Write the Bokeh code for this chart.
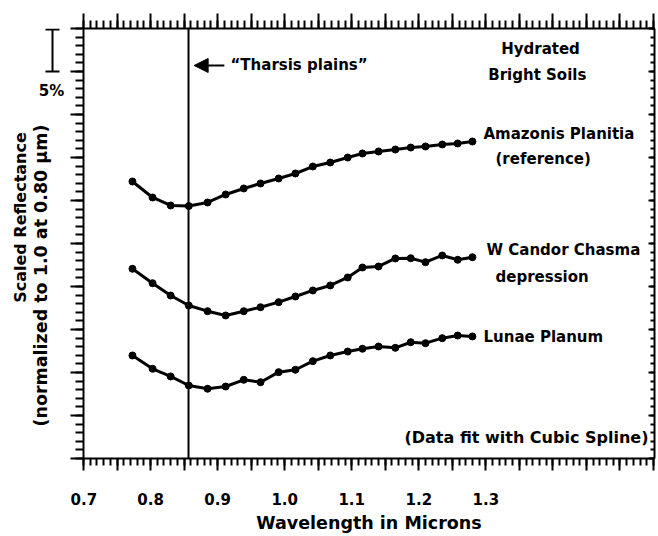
import math
from bokeh.plotting import figure
from bokeh.layouts import row
from bokeh.models import (Range1d, LinearAxis, FixedTicker, Span, Arrow, NormalHead,
                          Label, CustomJSTickFormatter)
from bokeh.embed import file_html
from bokeh.resources import INLINE

# ---------------- data ----------------
wavelength = [0.773, 0.803, 0.830, 0.857, 0.885, 0.912, 0.939, 0.964, 0.991, 1.016,
              1.042, 1.068, 1.094, 1.116, 1.140, 1.165, 1.188, 1.210, 1.235, 1.258, 1.280]

# scaled reflectance, normalized to 1.0 at 0.80 um
amazonis = [1.0186, 1.0000, 0.9907, 0.9901, 0.9942, 1.0035, 1.0105, 1.0163, 1.0221, 1.0279,
            1.0360, 1.0407, 1.0465, 1.0512, 1.0535, 1.0558, 1.0581, 1.0593, 1.0616, 1.0628, 1.0651]
candor = [1.0171, 1.0003, 0.9860, 0.9744, 0.9678, 0.9628, 0.9678, 0.9724, 0.9783, 0.9849,
          0.9919, 0.9977, 1.0070, 1.0186, 1.0198, 1.0291, 1.0294, 1.0248, 1.0326, 1.0276, 1.0306]
lunae = [1.0163, 1.0008, 0.9919, 0.9814, 0.9776, 0.9802, 0.9880, 0.9852, 0.9969, 0.9997,
         1.0097, 1.0163, 1.0209, 1.0241, 1.0267, 1.0252, 1.0317, 1.0306, 1.0364, 1.0395, 1.0384]

series_names = ["Amazonis Planitia", "W Candor Chasma", "Lunae Planum"]
series_offsets = [0.0, -0.10, -0.20]          # vertical offsets used for display

tharsis_wavelength = 0.8566
scale_bar_value = 0.05                          # "5%" bar
x_tick_values = [0.7, 0.8, 0.9, 1.0, 1.1, 1.2, 1.3]
x_tick_labels = ["0.7", "0.8", "0.9", "1.0", "1.1", "1.2", "1.3"]

# ---------------- layout constants ----------------
X0, X1 = 0.7, 1.5515
Y0, Y1 = 0.6965, 1.1965
FONT = "DejaVu Sans"
TOTAL_W, TOTAL_H = 658, 536
SIDE_W = 70
BORDER_TOP, BORDER_BOTTOM = 28, 78
FRAME_H = TOTAL_H - BORDER_TOP - BORDER_BOTTOM

p = figure(width=TOTAL_W - SIDE_W, height=TOTAL_H, x_range=Range1d(X0, X1),
           y_range=Range1d(Y0, Y1),
           output_backend="svg", toolbar_location=None,
           x_axis_type=None, y_axis_type=None,
           min_border_left=13, min_border_right=4,
           min_border_top=BORDER_TOP, min_border_bottom=BORDER_BOTTOM)
p.outline_line_color = None

x_major = [round(0.70 + 0.05 * i, 2) for i in range(18)]
x_minor = [round(0.70 + 0.01 * i, 2) for i in range(86)]
y_major = [round(Y1 - 0.05 * k, 4) for k in range(11)]
y_minor = [round(Y1 - 0.01 * k, 4) for k in range(51)]

blank = CustomJSTickFormatter(code="return '';")


def style(ax, mo, mi, no, ni):
    ax.axis_line_width = 2
    ax.axis_line_color = "black"
    ax.major_tick_line_width = 2
    ax.minor_tick_line_width = 2
    ax.major_tick_line_color = "black"
    ax.minor_tick_line_color = "black"
    ax.major_tick_out = mo
    ax.major_tick_in = mi
    ax.minor_tick_out = no
    ax.minor_tick_in = ni


xb = LinearAxis(ticker=FixedTicker(ticks=x_major, minor_ticks=x_minor))
style(xb, 12, 0, 7, 0)
overrides = {t: "" for t in x_major}
for t, lab_ in zip(x_tick_values, x_tick_labels):
    overrides[t] = lab_
xb.major_label_overrides = overrides
xb.major_label_text_font = FONT
xb.major_label_text_font_style = "bold"
xb.major_label_text_font_size = "15px"
xb.major_label_text_color = "black"
xb.major_label_standoff = 22
xb.axis_label = "Wavelength in Microns"
xb.axis_label_text_font = FONT
xb.axis_label_text_font_style = "bold"
xb.axis_label_text_font_size = "17.5px"
xb.axis_label_text_color = "black"
xb.axis_label_standoff = 5
p.add_layout(xb, "below")

for loc, mo, mi, no, ni, ticks, minors in [("above", 15, 0, 8, 0, x_major, x_minor),
                                           ("left", 13, 0, 8, 0, y_major, y_minor),
                                           ("right", 0, 6, 0, 4, y_major, y_minor)]:
    ax = LinearAxis(ticker=FixedTicker(ticks=ticks, minor_ticks=minors), formatter=blank)
    style(ax, mo, mi, no, ni)
    ax.major_label_text_font_size = "0px"
    ax.major_label_standoff = 0
    p.add_layout(ax, loc)

# ---------------- curves ----------------
for vals, off in zip([amazonis, candor, lunae], series_offsets):
    ys = [v + off for v in vals]
    p.line(wavelength, ys, line_width=3, color="black")
    p.scatter(wavelength, ys, size=7, color="black")

# Tharsis plains reference line + arrow
p.add_layout(Span(location=tharsis_wavelength, dimension="height",
                  line_color="black", line_width=2))
p.add_layout(Arrow(end=NormalHead(size=14, fill_color="black", line_color="black"),
                   x_start=0.9100, y_start=1.1535, x_end=0.8650, y_end=1.1535,
                   line_width=2, line_color="black"))


def lab(fig, x, y, text, size="15px", align="left", angle=0.0):
    fig.add_layout(Label(x=x, y=y, text=text, text_font=FONT, text_font_style="bold",
                         text_font_size=size, text_align=align, text_baseline="middle",
                         angle=angle, text_color="black"))


lab(p, 0.9192, 1.1535, "\u201cTharsis plains\u201d", "15px")
lab(p, 1.3815, 1.1721, "Hydrated", "15px", "center")
lab(p, 1.3845, 1.1419, "Bright   Soils", "15px", "center")
lab(p, 1.2965, 1.0733, series_names[0], "15px")
lab(p, 1.3144, 1.0453, "(reference)", "15px")
lab(p, 1.3010, 0.9384, series_names[1], "15px")
lab(p, 1.3144, 0.9070, "depression", "15px")
lab(p, 1.2965, 0.8372, series_names[2], "15px")
lab(p, 1.5425, 0.7209, "(Data fit with Cubic Spline)", "16px", "right")

# ---------------- left strip: y title and 5% scale bar ----------------
# its frame is aligned with the main frame (rows align frames); y in page pixels
s = figure(width=SIDE_W, height=TOTAL_H, x_range=Range1d(0, SIDE_W),
           y_range=Range1d(BORDER_TOP + FRAME_H, BORDER_TOP),
           output_backend="svg", toolbar_location=None,
           x_axis_type=None, y_axis_type=None,
           min_border_left=0, min_border_right=0,
           min_border_top=BORDER_TOP, min_border_bottom=BORDER_BOTTOM)
s.outline_line_color = None
s.grid.visible = False

px_per_unit = FRAME_H / (Y1 - Y0)
bar_top = BORDER_TOP + 1
bar_bot = BORDER_TOP + scale_bar_value * px_per_unit
bar_x = 52
s.segment(x0=[bar_x, bar_x - 7, bar_x - 7], y0=[bar_top, bar_top, bar_bot],
          x1=[bar_x, bar_x + 7, bar_x + 7], y1=[bar_bot, bar_top, bar_bot],
          line_width=2, line_color="black")
lab(s, bar_x - 1, bar_bot + 19, "5%", "15px", "center")
lab(s, 20, 217, "Scaled Reflectance", "16px", "center", math.pi / 2)
lab(s, 40, 272, "(normalized to 1.0 at 0.80  \u00b5m)", "17.5px", "center", math.pi / 2)

layout = row(s, p, spacing=0)
open("out.html", "w").write(file_html(layout, INLINE))
